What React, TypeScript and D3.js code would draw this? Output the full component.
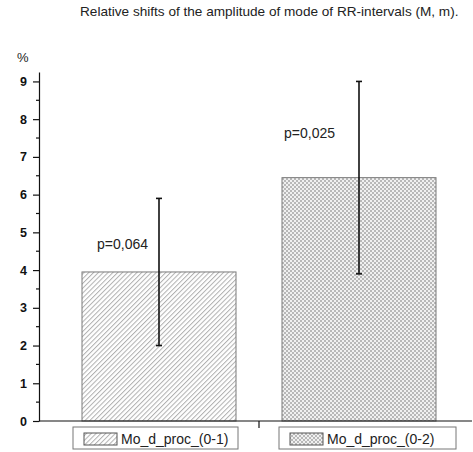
import React, { useRef, useEffect } from "react";
import * as d3 from "d3";

// Chart data
const categories = ["Mo_d_proc_(0-1)", "Mo_d_proc_(0-2)"];
const means = [3.95, 6.45];
const errors = [1.95, 2.55];
const pLabels = ["p=0,064", "p=0,025"];
const yTicks = [0, 1, 2, 3, 4, 5, 6, 7, 8, 9];

const title = "Relative shifts of the amplitude of mode of RR-intervals (M, m).";

const WIDTH = 473;
const HEIGHT = 452;
const FONT = "Arial, 'Liberation Sans', sans-serif";

// where the p-labels sit (value units above baseline, px offset from bar start)
const pLabelAt = [
  { v: 4.57, dx: 15 },
  { v: 7.5, dx: 2 },
];

const App = () => {
  const svgRef = useRef<SVGSVGElement>(null);

  useEffect(() => {
    const root = d3.select(svgRef.current);
    root.selectAll("*").remove();

    const svg = root.attr("width", WIDTH).attr("height", HEIGHT);

    // patterns for the bars
    const defs = svg.append("defs");
    const hatch = defs
      .append("pattern")
      .attr("id", "hatch")
      .attr("patternUnits", "userSpaceOnUse")
      .attr("width", 3.4)
      .attr("height", 3.4)
      .attr("patternTransform", "rotate(45)");
    hatch.append("rect").attr("width", 3.4).attr("height", 3.4).attr("fill", "#fff");
    hatch
      .append("line")
      .attr("x1", 0.5)
      .attr("y1", 0)
      .attr("x2", 0.5)
      .attr("y2", 3.4)
      .attr("stroke", "#b0b0b0")
      .attr("stroke-width", 1);

    const checker = defs
      .append("pattern")
      .attr("id", "checker")
      .attr("patternUnits", "userSpaceOnUse")
      .attr("width", 4)
      .attr("height", 4);
    checker.append("rect").attr("width", 4).attr("height", 4).attr("fill", "#f0f0f0");
    checker.append("rect").attr("width", 2).attr("height", 2).attr("fill", "#b8b8b8");
    checker.append("rect").attr("x", 2).attr("y", 2).attr("width", 2).attr("height", 2).attr("fill", "#b8b8b8");

    const fills = ["url(#hatch)", "url(#checker)"];

    // scales
    const x = d3
      .scaleBand<string>()
      .domain(categories)
      .range([59, 459])
      .paddingInner(0.23)
      .paddingOuter(0.115);
    const y = d3.scaleLinear().domain([0, 9.25]).range([421, 72]);

    // title
    svg
      .append("text")
      .attr("x", 80)
      .attr("y", 16)
      .attr("font-family", FONT)
      .attr("font-size", 13.6)
      .attr("fill", "#222")
      .text(title);

    // unit label
    svg
      .append("text")
      .attr("x", 17)
      .attr("y", 62)
      .attr("font-family", FONT)
      .attr("font-size", 13)
      .attr("fill", "#222")
      .text("%");

    // bars
    svg
      .selectAll(".bar")
      .data(categories)
      .enter()
      .append("rect")
      .attr("class", "bar")
      .attr("x", (d) => x(d)!)
      .attr("width", x.bandwidth())
      .attr("y", (d, i) => y(means[i]))
      .attr("height", (d, i) => y(0) - y(means[i]))
      .attr("fill", (d, i) => fills[i])
      .attr("stroke", "#7a7a7a")
      .attr("stroke-width", 1);

    // error bars
    const eb = svg
      .selectAll(".err")
      .data(categories)
      .enter()
      .append("g")
      .attr("class", "err")
      .attr("stroke", "#111")
      .attr("stroke-width", 1.6);
    const cx = (d: string) => x(d)! + x.bandwidth() / 2;
    eb.append("line")
      .attr("x1", cx)
      .attr("x2", cx)
      .attr("y1", (d, i) => y(means[i] + errors[i]))
      .attr("y2", (d, i) => y(means[i] - errors[i]));
    eb.append("line")
      .attr("x1", (d) => cx(d) - 3)
      .attr("x2", (d) => cx(d) + 3)
      .attr("y1", (d, i) => y(means[i] + errors[i]))
      .attr("y2", (d, i) => y(means[i] + errors[i]));
    eb.append("line")
      .attr("x1", (d) => cx(d) - 3)
      .attr("x2", (d) => cx(d) + 3)
      .attr("y1", (d, i) => y(means[i] - errors[i]))
      .attr("y2", (d, i) => y(means[i] - errors[i]));

    // p-values
    svg
      .selectAll(".plabel")
      .data(pLabels)
      .enter()
      .append("text")
      .attr("class", "plabel")
      .attr("x", (d, i) => x(categories[i])! + pLabelAt[i].dx)
      .attr("y", (d, i) => y(pLabelAt[i].v))
      .attr("font-family", FONT)
      .attr("font-size", 14)
      .attr("fill", "#222")
      .text((d) => d);

    // Y axis
    const yAxis = svg
      .append("g")
      .attr("transform", "translate(39,0)")
      .call(
        d3
          .axisLeft(y)
          .tickValues(yTicks)
          .tickSize(6)
          .tickPadding(6)
          .tickSizeOuter(0)
          .tickFormat(d3.format("d"))
      );
    yAxis.select(".domain").attr("stroke", "#111").attr("stroke-width", 1.2);
    yAxis.selectAll(".tick line").attr("stroke", "#111").attr("stroke-width", 1.2);
    yAxis
      .selectAll(".tick text")
      .attr("font-family", FONT)
      .attr("font-size", 12.5)
      .attr("font-weight", "bold")
      .attr("fill", "#111");

    // minor ticks at half units
    yAxis
      .selectAll(".minor")
      .data(yTicks.slice(0, -1).map((t) => t + 0.5))
      .enter()
      .append("line")
      .attr("class", "minor")
      .attr("x1", -3)
      .attr("x2", 0)
      .attr("y1", (d) => y(d))
      .attr("y2", (d) => y(d))
      .attr("stroke", "#111")
      .attr("stroke-width", 1.2);

    // X axis line with a tick between the groups
    const xAxis = svg.append("g").attr("transform", `translate(0,${y(0)})`);
    xAxis
      .append("line")
      .attr("x1", 39)
      .attr("x2", 472)
      .attr("stroke", "#111")
      .attr("stroke-width", 1.2);
    const midTick = (x(categories[0])! + x.bandwidth() + x(categories[1])!) / 2;
    xAxis
      .append("line")
      .attr("x1", midTick)
      .attr("x2", midTick)
      .attr("y1", 0)
      .attr("y2", 7)
      .attr("stroke", "#111")
      .attr("stroke-width", 1.2);

    // legend
    const legendBoxes = [
      { x: 73, w: 165 },
      { x: 279, w: 177 },
    ];
    const lg = svg
      .selectAll(".legend")
      .data(categories)
      .enter()
      .append("g")
      .attr("class", "legend")
      .attr("transform", (d, i) => `translate(${legendBoxes[i].x},427)`);
    lg.append("rect")
      .attr("width", (d, i) => legendBoxes[i].w)
      .attr("height", 22)
      .attr("fill", "#fff")
      .attr("stroke", "#777")
      .attr("stroke-width", 1);
    lg.append("rect")
      .attr("x", 11)
      .attr("y", 6)
      .attr("width", 33)
      .attr("height", 12)
      .attr("fill", (d, i) => fills[i])
      .attr("stroke", "#555")
      .attr("stroke-width", 1);
    lg.append("text")
      .attr("x", 48)
      .attr("y", 17)
      .attr("font-family", FONT)
      .attr("font-size", 14)
      .attr("fill", "#222")
      .text((d) => d);
  }, []);

  return (
    <svg
      ref={svgRef}
      style={{ position: "absolute", left: 0, top: 0, background: "#fff" }}
    ></svg>
  );
};

export default App;
